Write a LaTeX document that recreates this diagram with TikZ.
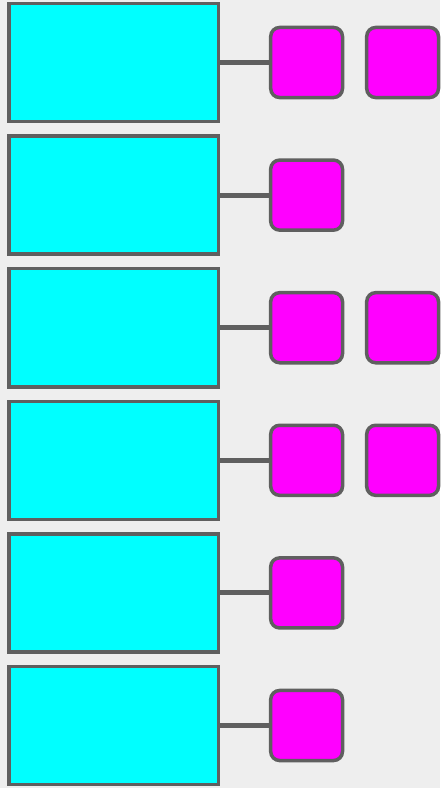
\documentclass[tikz,border=0pt]{standalone}
\definecolor{edgegrey}{HTML}{5F5F5F}
\definecolor{bggrey}{HTML}{EEEEEE}
\definecolor{boxcyan}{HTML}{00FFFF}
\definecolor{boxmagenta}{HTML}{FF00FF}
\tikzset{
  bigbox/.style={draw=edgegrey,line width=3.5pt,fill=boxcyan,minimum width=209.5pt,minimum height=118.1pt,inner sep=0pt},
  smallbox/.style={draw=edgegrey,line width=3.5pt,fill=boxmagenta,rounded corners=9pt,minimum width=71.8pt,minimum height=70.1pt,inner sep=0pt},
  link/.style={draw=edgegrey,line width=5pt}
}
\begin{document}
\begin{tikzpicture}[x=1pt,y=-1pt]
\fill[bggrey] (0,0) rectangle (440,788);
\useasboundingbox (0,0) rectangle (440,788);
\foreach \i/\n in {0/2,1/1,2/2,3/2,4/1,5/1}{
  \node[bigbox] (row\i) at (113.5,62.5+132.6*\i) {};
  \node[smallbox] (sq\i a) at (306.6,62.5+132.6*\i) {};
  \draw[link] (row\i.east) -- (sq\i a.west);
  \ifnum\n=2
    \node[smallbox] (sq\i b) at (402.6,62.5+132.6*\i) {};
  \fi
}
\end{tikzpicture}
\end{document}
